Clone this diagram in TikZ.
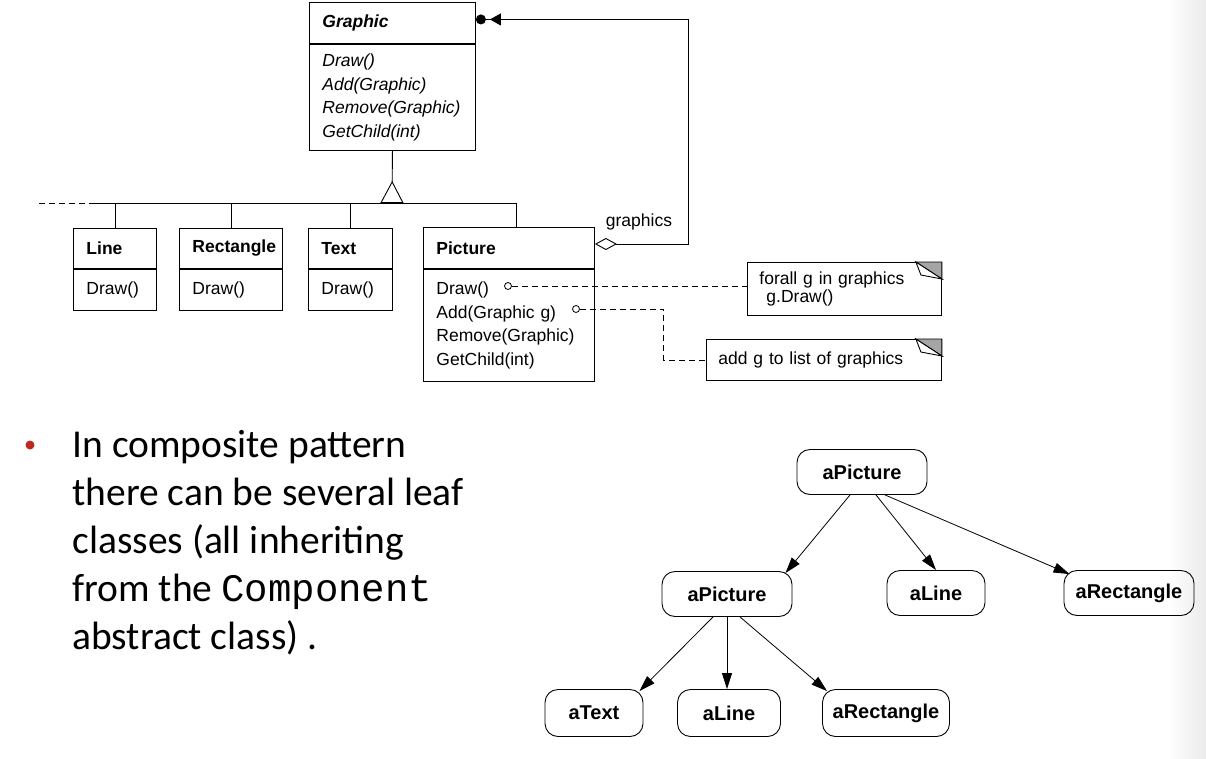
\documentclass[tikz,border=0pt]{standalone}
\usepackage{fontspec}
\setmainfont{Liberation Sans}
\newfontfamily\slidefont{Carlito}
\newfontfamily\codefont{Liberation Mono}
\usetikzlibrary{arrows.meta,positioning,calc}
\definecolor{bulletred}{RGB}{190,40,30}
\definecolor{earfill}{RGB}{165,165,165}

\begin{document}
\begin{tikzpicture}[x=1pt,y=-1pt,
    line width=0.9pt,
    classhead/.style={draw, anchor=north west, inner xsep=13pt, inner ysep=0pt, align=left, font=\fontsize{17.5}{21}\selectfont\bfseries},
    classops/.style={draw, anchor=north west, inner xsep=13pt, inner ysep=0pt, align=left, font=\fontsize{17.5}{23.5}\selectfont},
    port/.style={circle, draw, fill=white, inner sep=0pt, minimum size=7pt, line width=0.8pt},
    note/.style={draw, anchor=north west, inner xsep=12pt, inner ysep=0pt, align=left, font=\fontsize{17.5}{15.5}\selectfont},
    notelink/.style={dash pattern=on 6pt off 4pt},
    object/.style={draw, rounded corners=13pt, minimum height=45pt, font=\fontsize{20}{24}\selectfont\bfseries},
    link/.style={line width=0.8pt, -{Triangle[length=16pt,width=10pt]}},
    lbl/.style={font=\fontsize{17.5}{21}\selectfont, inner sep=0pt}
]
\useasboundingbox (0,0) rectangle (1206,758);
\shade[left color=white, right color=black!8, draw=none] (1168,0) rectangle (1206,758);

% Component class
\node[classhead, text width=140pt, minimum height=41pt, font=\fontsize{17.5}{21}\selectfont\bfseries\itshape] (graphic) at (309,2) {Graphic};
\node[classops, text width=140pt, minimum height=106pt, font=\fontsize{17.5}{23.5}\selectfont\itshape] (graphicops) at (graphic.south west) {Draw()\\Add(Graphic)\\Remove(Graphic)\\GetChild(int)};

% Leaf classes
\node[classhead, text width=57pt, minimum height=40pt] (line) at (73,228) {Line};
\node[classops, text width=57pt, minimum height=41pt] (lineops) at (line.south west) {Draw()};
\node[classhead, text width=77pt, minimum height=40pt] (rect) at (179,228) {Rectangle};
\node[classops, text width=77pt, minimum height=41pt] (rectops) at (rect.south west) {Draw()};
\node[classhead, text width=58pt, minimum height=40pt] (txt) at (308,228) {Text};
\node[classops, text width=58pt, minimum height=41pt] (txtops) at (txt.south west) {Draw()};

% Composite class
\node[classhead, text width=145pt, minimum height=41pt] (picture) at (423,227) {Picture};
\node[classops, text width=145pt, minimum height=112pt] (pictureops) at (picture.south west) {Draw()\\Add(Graphic g)\\Remove(Graphic)\\GetChild(int)};

% Inheritance
\coordinate (inh) at (392,203);
\coordinate (barl) at (95,203);
\draw (barl) -- ([xshift=7pt]picture.north |- inh) -- ([xshift=7pt]picture.north);
\foreach \c in {line,rect,txt} \draw (\c.north) -- (\c.north |- inh);
\draw[notelink] (barl) -- ++(-57,0);
\draw[{Triangle[open,reversed,length=22pt,width=23pt]}-] (inh) -- (graphicops.south);

% Aggregation
\draw[{Diamond[open,length=22pt,width=12pt]}-{Triangle[length=11pt,width=12pt,sep=4pt]Circle[length=10pt]}] ([yshift=-17pt]picture.north east) -- ++(94,0) |- ([yshift=3.5pt]graphic.east);
\node[lbl] (graphicslbl) at (639,222) {graphics};

% Notes
\node[note, text width=170pt, minimum height=53pt] (note1) at (747,262) {forall g in graphics\\\hspace*{7pt}g.Draw()};
\node[note, text width=211pt, minimum height=41pt] (note2) at (706,339) {add g to list of graphics};
\foreach \n in {note1,note2} {
  \filldraw[fill=earfill] (\n.north east) -- ++(-26,0) -- ++(26,17) -- cycle;
  \draw[fill=white] (\n.north east) ++(-26,0) -- ++(5,13) -- ++(21,4) -- cycle;
}
\node[port] (pdraw) at (508,286) {};
\node[port] (padd) at (576,309) {};
\draw[notelink] (pdraw.east) -- (pdraw.east -| note1.west);
\draw[notelink] (padd.east) -- ++(84,0) |- (note2.west);

% Bullet text
\node[circle, fill=bulletred, inner sep=0pt, minimum size=9pt] (dot) at (30,445) {};
\node[anchor=north west, inner sep=0pt, align=left, font=\slidefont\fontsize{39.5}{48}\selectfont] (point) at (72,430)
  {In composite pattern\\there can be several leaf\\classes (all inheriting\\from the {\codefont\fontsize{39}{48}\selectfont Component}\\abstract class) .};

% Object structure
\node[object, minimum width=130pt] (top) at (862,472) {aPicture};
\node[object, minimum width=130pt] (pic2) at (727,594) {aPicture};
\node[object, minimum width=98pt] (line1) at (936,593) {aLine};
\node[object, minimum width=130pt] (rect1) at (1129,593) {aRectangle};
\node[object, minimum width=98pt, minimum height=47pt] (txt2) at (594,713) {aText};
\node[object, minimum width=103pt, minimum height=47pt] (line2) at (729,713) {aLine};
\node[object, minimum width=127pt, minimum height=47pt] (rect2) at (886,713) {aRectangle};

\draw[link] ([xshift=-12pt]top.south) -- ([xshift=-7pt,yshift=-2pt]pic2.north east);
\draw[link] ([xshift=14pt]top.south) -- (line1.north);
\draw[link] ([xshift=23pt]top.south) -- ([xshift=6pt,yshift=-4pt]rect1.north west);
\draw[link] ([xshift=-14pt]pic2.south) -- ([xshift=-4pt,yshift=-2pt]txt2.north east);
\draw[link] (pic2.south) -- (pic2.south |- line2.north);
\draw[link] ([xshift=13pt]pic2.south) -- ([xshift=5pt,yshift=-2pt]rect2.north west);

\end{tikzpicture}
\end{document}
